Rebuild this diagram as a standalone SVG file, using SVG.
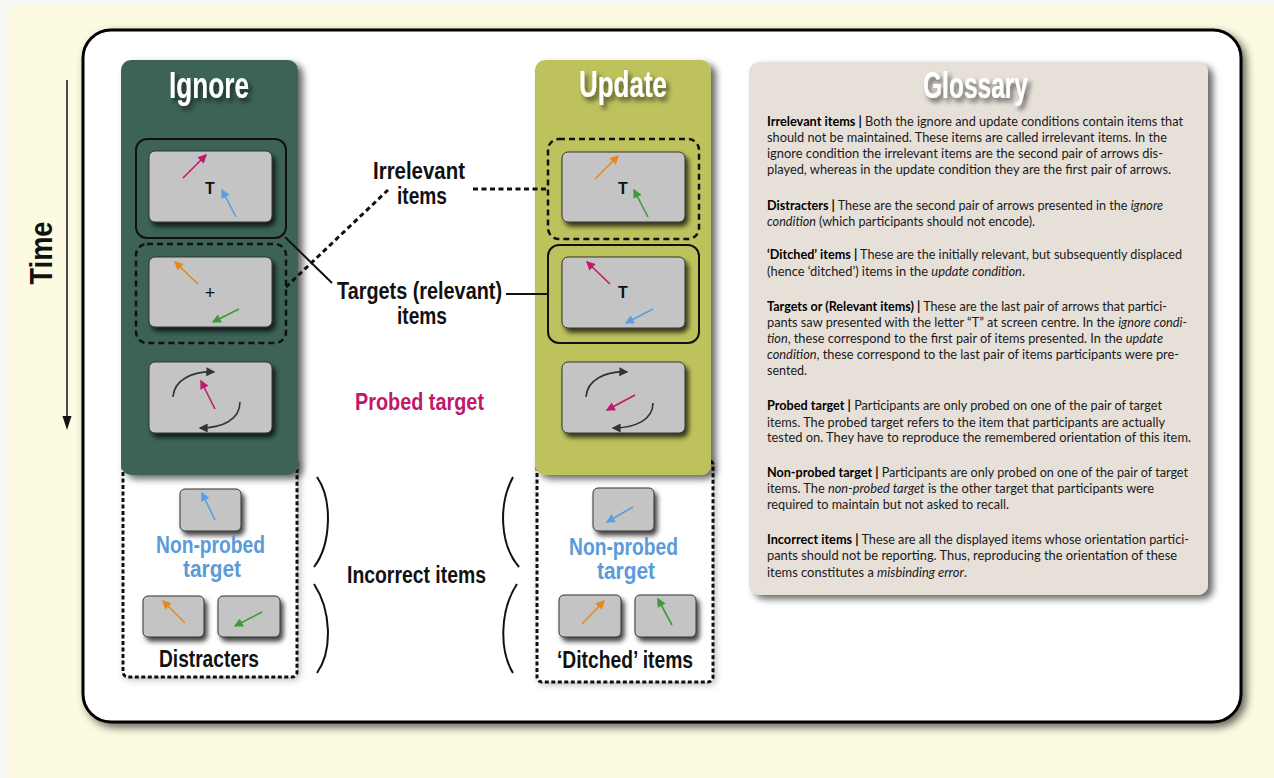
<svg xmlns="http://www.w3.org/2000/svg" width="1274" height="778" viewBox="0 0 1274 778">
<defs>
<style>
.cond{font-family:"Liberation Sans Narrow","Liberation Sans",Arial,sans-serif;font-weight:bold}
.title{font-size:37px;fill:#fff}
.lbl{font-size:23px;fill:#111}
.blue{fill:#5b9bd8}
.mag{fill:#c0186b}
.card{fill:#c4c4c4;stroke:#333;stroke-width:1}
.frame{fill:none;stroke:#111;stroke-width:2}
.dframe{fill:none;stroke:#111;stroke-width:2.5;stroke-dasharray:6 4}
.bbox{fill:#fff;stroke:#111;stroke-width:3;stroke-dasharray:4 2.5}
.ar{stroke-width:1.6;fill:none}
.am{stroke:#c0186b}.ab{stroke:#5a9ee0}.ao{stroke:#e08a1e}.ag{stroke:#3e9a3a}.ak{stroke:#333}
.tT{font-family:"Liberation Sans",Arial,sans-serif;font-weight:bold;font-size:16px;fill:#111}
.g{font-family:Lato,"Liberation Sans",sans-serif;font-size:12.5px;fill:#1a1a1a}
.g .b{font-weight:bold;fill:#000}
.g .i{font-style:italic}
.con{stroke:#111;stroke-width:2;fill:none}
.dcon{stroke:#111;stroke-width:3;fill:none;stroke-dasharray:5 3.5}
</style>
<filter id="sh" x="-10%" y="-10%" width="130%" height="130%"><feDropShadow dx="5" dy="4" stdDeviation="3.5" flood-color="#000" flood-opacity="0.6"/></filter>
<filter id="psh" x="-5%" y="-5%" width="110%" height="110%"><feDropShadow dx="4" dy="4" stdDeviation="4" flood-color="#000" flood-opacity="0.6"/></filter>
<filter id="csh" x="-10%" y="-10%" width="130%" height="140%"><feDropShadow dx="3" dy="4" stdDeviation="2.5" flood-color="#000" flood-opacity="0.75"/></filter>
<filter id="tsh" x="-20%" y="-20%" width="150%" height="160%"><feDropShadow dx="3" dy="4" stdDeviation="2.5" flood-color="#000" flood-opacity="0.6"/></filter>
<filter id="lsh" x="-10%" y="-10%" width="130%" height="130%"><feDropShadow dx="2" dy="2" stdDeviation="3" flood-color="#000" flood-opacity="0.25"/></filter>
<marker id="hm" viewBox="0 0 10 10" refX="8.5" refY="5" markerWidth="12" markerHeight="9" markerUnits="userSpaceOnUse" orient="auto"><path d="M0,0 L10,5 L0,10 z" fill="#c0186b"/></marker>
<marker id="hb" viewBox="0 0 10 10" refX="8.5" refY="5" markerWidth="12" markerHeight="9" markerUnits="userSpaceOnUse" orient="auto"><path d="M0,0 L10,5 L0,10 z" fill="#5a9ee0"/></marker>
<marker id="ho" viewBox="0 0 10 10" refX="8.5" refY="5" markerWidth="12" markerHeight="9" markerUnits="userSpaceOnUse" orient="auto"><path d="M0,0 L10,5 L0,10 z" fill="#e08a1e"/></marker>
<marker id="hg" viewBox="0 0 10 10" refX="8.5" refY="5" markerWidth="12" markerHeight="9" markerUnits="userSpaceOnUse" orient="auto"><path d="M0,0 L10,5 L0,10 z" fill="#3e9a3a"/></marker>
<marker id="hk" viewBox="0 0 10 10" refX="8.5" refY="5" markerWidth="12" markerHeight="9" markerUnits="userSpaceOnUse" orient="auto"><path d="M0,0 L10,5 L0,10 z" fill="#333"/></marker>
</defs>

<rect x="0" y="0" width="1274" height="778" fill="#f6f6f2"/>
<rect x="7" y="6" width="1280" height="780" rx="14" fill="#fcfbe1"/>
<rect id="panel" x="83" y="30" width="1158" height="692" rx="28" fill="#fff" stroke="#000" stroke-width="3" filter="url(#psh)"/>

<g id="time-axis">
<line x1="67" y1="80" x2="67" y2="418" stroke="#111" stroke-width="1.5"/>
<path d="M62.5,416 L71.5,416 L67,430 z" fill="#111"/>
<text class="cond" font-size="31" fill="#111" text-anchor="middle" transform="translate(52,253) rotate(-90)" textLength="63" lengthAdjust="spacingAndGlyphs">Time</text>
</g>

<g id="ignore-incorrect">
<rect class="bbox" x="123" y="460" width="174" height="217" rx="5" filter="url(#lsh)"/>
<rect class="card" x="180" y="489" width="61" height="42" rx="5" filter="url(#csh)"/>
<line class="ar ab" x1="215" y1="520" x2="202" y2="493" marker-end="url(#hb)"/>
<text class="cond blue" font-size="23" x="156" y="553" textLength="109" lengthAdjust="spacingAndGlyphs">Non-probed</text>
<text class="cond blue" font-size="23" x="183" y="577" textLength="58" lengthAdjust="spacingAndGlyphs">target</text>
<rect class="card" x="143" y="596" width="61" height="41" rx="5" filter="url(#csh)"/>
<line class="ar ao" x1="185" y1="623" x2="163" y2="601" marker-end="url(#ho)"/>
<rect class="card" x="218" y="596" width="62" height="41" rx="5" filter="url(#csh)"/>
<line class="ar ag" x1="262" y1="612" x2="235" y2="626" marker-end="url(#hg)"/>
<text class="cond" font-size="23" fill="#111" x="159" y="667" textLength="100" lengthAdjust="spacingAndGlyphs">Distracters</text>
</g>

<g id="update-incorrect">
<rect class="bbox" x="537" y="460" width="176" height="222" rx="5" filter="url(#lsh)"/>
<rect class="card" x="593" y="488" width="61" height="43" rx="5" filter="url(#csh)"/>
<line class="ar ab" x1="633" y1="507" x2="607" y2="522" marker-end="url(#hb)"/>
<text class="cond blue" font-size="23" x="569" y="555" textLength="109" lengthAdjust="spacingAndGlyphs">Non-probed</text>
<text class="cond blue" font-size="23" x="597" y="579" textLength="58" lengthAdjust="spacingAndGlyphs">target</text>
<rect class="card" x="559" y="595" width="62" height="42" rx="5" filter="url(#csh)"/>
<line class="ar ao" x1="582" y1="624" x2="604" y2="601" marker-end="url(#ho)"/>
<rect class="card" x="635" y="595" width="61" height="42" rx="5" filter="url(#csh)"/>
<line class="ar ag" x1="672" y1="625" x2="658" y2="599" marker-end="url(#hg)"/>
<text class="cond" font-size="23" fill="#111" x="557" y="668" textLength="136" lengthAdjust="spacingAndGlyphs">‘Ditched’ items</text>
</g>

<g id="ignore">
<rect x="121" y="60" width="177" height="415" rx="10" fill="#3d6359" filter="url(#sh)"/>
<text class="cond title" x="169" y="98" textLength="80" lengthAdjust="spacingAndGlyphs" filter="url(#tsh)">Ignore</text>
</g>
<g id="ignore-targets">
<rect class="frame" x="136" y="139" width="150" height="99" rx="11"/>
<rect class="card" x="149" y="151" width="123" height="71" rx="6" filter="url(#csh)"/>
<line class="ar am" x1="183" y1="178" x2="206" y2="155" marker-end="url(#hm)"/>
<text class="tT" x="210" y="194" text-anchor="middle">T</text>
<line class="ar ab" x1="236" y1="217" x2="222" y2="190" marker-end="url(#hb)"/>
</g>
<g id="ignore-irrelevant">
<rect class="dframe" x="136" y="244" width="150" height="99" rx="11"/>
<rect class="card" x="149" y="257" width="123" height="70" rx="6" filter="url(#csh)"/>
<line class="ar ao" x1="198" y1="284" x2="175" y2="262" marker-end="url(#ho)"/>
<text x="210" y="299" text-anchor="middle" font-family="Liberation Sans,Arial,sans-serif" font-size="18" fill="#111">+</text>
<line class="ar ag" x1="239" y1="309" x2="213" y2="322" marker-end="url(#hg)"/>
</g>
<g id="ignore-probe">
<rect class="card" x="149" y="362" width="123" height="71" rx="6" filter="url(#csh)"/>
<path class="ar ak" d="M173,397 C174,380 192,371 214,372" marker-end="url(#hk)"/>
<path class="ar ak" d="M240,402 C240,420 222,428 200,428" marker-end="url(#hk)"/>
<line class="ar am" x1="215" y1="409" x2="201" y2="381" marker-end="url(#hm)"/>
</g>

<g id="update">
<rect x="535" y="60" width="176" height="415" rx="10" fill="#bec25d" filter="url(#sh)"/>
<text class="cond title" x="579" y="97" textLength="88" lengthAdjust="spacingAndGlyphs" filter="url(#tsh)">Update</text>
</g>
<g id="update-irrelevant">
<rect class="dframe" x="548" y="139" width="151" height="100" rx="11"/>
<rect class="card" x="562" y="152" width="123" height="70" rx="6" filter="url(#csh)"/>
<line class="ar ao" x1="595" y1="179" x2="618" y2="156" marker-end="url(#ho)"/>
<text class="tT" x="623" y="194" text-anchor="middle">T</text>
<line class="ar ag" x1="648" y1="217" x2="634" y2="190" marker-end="url(#hg)"/>
</g>
<g id="update-targets">
<rect class="frame" x="548" y="245" width="151" height="98" rx="11"/>
<rect class="card" x="562" y="257" width="123" height="71" rx="6" filter="url(#csh)"/>
<line class="ar am" x1="610" y1="284" x2="587" y2="262" marker-end="url(#hm)"/>
<text class="tT" x="623" y="298" text-anchor="middle">T</text>
<line class="ar ab" x1="653" y1="309" x2="626" y2="323" marker-end="url(#hb)"/>
</g>
<g id="update-probe">
<rect class="card" x="562" y="362" width="123" height="71" rx="6" filter="url(#csh)"/>
<path class="ar ak" d="M586,397 C587,380 605,371 627,372" marker-end="url(#hk)"/>
<path class="ar ak" d="M653,403 C653,420 635,428 613,428" marker-end="url(#hk)"/>
<line class="ar am" x1="635" y1="395" x2="607" y2="410" marker-end="url(#hm)"/>
</g>

<g id="connectors">
<line class="con" x1="285" y1="237" x2="332" y2="283"/>
<line class="dcon" x1="286" y1="287" x2="388" y2="190"/>
<line class="dcon" x1="473" y1="189" x2="548" y2="189"/>
<line class="con" x1="506" y1="294" x2="548" y2="294"/>
<path class="con" stroke-width="2.5" d="M317,477 C333,500 331,545 314,567 M314,584 C331,610 333,650 317,673"/>
<path class="con" stroke-width="2.5" d="M513,477 C498,505 500,545 519,567 M517,584 C500,610 499,650 513,673"/>
</g>

<g id="labels">
<text class="cond lbl" x="373" y="179" textLength="92" lengthAdjust="spacingAndGlyphs">Irrelevant</text>
<text class="cond lbl" x="397" y="204" textLength="50" lengthAdjust="spacingAndGlyphs">items</text>
<text class="cond lbl" x="337" y="299" textLength="165" lengthAdjust="spacingAndGlyphs">Targets (relevant)</text>
<text class="cond lbl" x="397" y="324" textLength="50" lengthAdjust="spacingAndGlyphs">items</text>
<text class="cond lbl mag" x="355" y="410" textLength="129" lengthAdjust="spacingAndGlyphs">Probed target</text>
<text class="cond lbl" x="347" y="583" textLength="139" lengthAdjust="spacingAndGlyphs">Incorrect items</text>
</g>

<g id="glossary">
<rect x="749" y="62" width="459" height="533" rx="10" fill="#e6e0d9" filter="url(#sh)"/>
<text class="cond title" x="923" y="98" textLength="105" lengthAdjust="spacingAndGlyphs" filter="url(#tsh)">Glossary</text>
<g class="g">
<text x="767" y="126" textLength="416" lengthAdjust="spacingAndGlyphs"><tspan class="b">Irrelevant items |</tspan> Both the ignore and update conditions contain items that</text>
<text x="767" y="142" textLength="400" lengthAdjust="spacingAndGlyphs">should not be maintained. These items are called irrelevant items. In the</text>
<text x="767" y="158" textLength="396" lengthAdjust="spacingAndGlyphs">ignore condition the irrelevant items are the second pair of arrows dis-</text>
<text x="767" y="174" textLength="404" lengthAdjust="spacingAndGlyphs">played, whereas in the update condition they are the first pair of arrows.</text>
<text x="767" y="210" textLength="396" lengthAdjust="spacingAndGlyphs"><tspan class="b">Distracters |</tspan> These are the second pair of arrows presented in the <tspan class="i">ignore</tspan></text>
<text x="767" y="226" textLength="268" lengthAdjust="spacingAndGlyphs"><tspan class="i">condition</tspan> (which participants should not encode).</text>
<text x="767" y="259" textLength="415" lengthAdjust="spacingAndGlyphs"><tspan class="b">‘Ditched’ items |</tspan> These are the initially relevant, but subsequently displaced</text>
<text x="767" y="276" textLength="258" lengthAdjust="spacingAndGlyphs">(hence ‘ditched’) items in the <tspan class="i">update condition</tspan>.</text>
<text x="767" y="311" textLength="400" lengthAdjust="spacingAndGlyphs"><tspan class="b">Targets or (Relevant items) |</tspan> These are the last pair of arrows that partici-</text>
<text x="767" y="327" textLength="420" lengthAdjust="spacingAndGlyphs">pants saw presented with the letter “T” at screen centre. In the <tspan class="i">ignore condi-</tspan></text>
<text x="767" y="343" textLength="396" lengthAdjust="spacingAndGlyphs"><tspan class="i">tion</tspan>, these correspond to the first pair of items presented. In the <tspan class="i">update</tspan></text>
<text x="767" y="359" textLength="412" lengthAdjust="spacingAndGlyphs"><tspan class="i">condition</tspan>, these correspond to the last pair of items participants were pre-</text>
<text x="767" y="375" textLength="40" lengthAdjust="spacingAndGlyphs">sented.</text>
<text x="767" y="410" textLength="395" lengthAdjust="spacingAndGlyphs"><tspan class="b">Probed target |</tspan> Participants are only probed on one of the pair of target</text>
<text x="767" y="427" textLength="398" lengthAdjust="spacingAndGlyphs">items. The probed target refers to the item that participants are actually</text>
<text x="767" y="442" textLength="424" lengthAdjust="spacingAndGlyphs">tested on. They have to reproduce the remembered orientation of this item.</text>
<text x="767" y="477" textLength="421" lengthAdjust="spacingAndGlyphs"><tspan class="b">Non-probed target |</tspan> Participants are only probed on one of the pair of target</text>
<text x="767" y="493" textLength="387" lengthAdjust="spacingAndGlyphs">items. The <tspan class="i">non-probed target</tspan> is the other target that participants were</text>
<text x="767" y="509" textLength="242" lengthAdjust="spacingAndGlyphs">required to maintain but not asked to recall.</text>
<text x="767" y="544" textLength="422" lengthAdjust="spacingAndGlyphs"><tspan class="b">Incorrect items |</tspan> These are all the displayed items whose orientation partici-</text>
<text x="767" y="560" textLength="410" lengthAdjust="spacingAndGlyphs">pants should not be reporting. Thus, reproducing the orientation of these</text>
<text x="767" y="577" textLength="200" lengthAdjust="spacingAndGlyphs">items constitutes a <tspan class="i">misbinding error</tspan>.</text>
</g>
</g>
</svg>
